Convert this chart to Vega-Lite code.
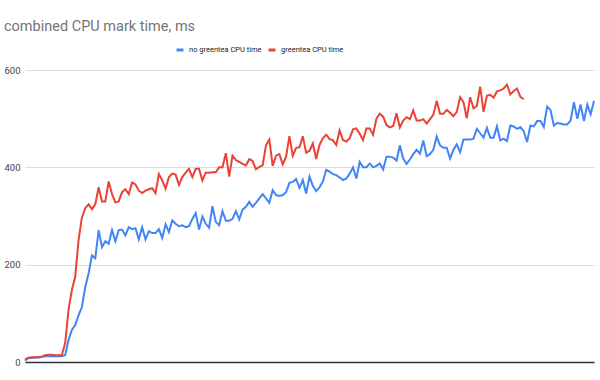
{
  "$schema": "https://vega.github.io/schema/vega-lite/v6.json",
  "width": 569,
  "height": 292,
  "autosize": {"type": "none"},
  "padding": {"left": 25, "top": 70, "right": 6, "bottom": 18},
  "background": "white",
  "title": {"text": "combined CPU mark time, ms", "anchor": "start", "frame": "group", "dx": -21, "offset": 11, "font": "Roboto", "fontSize": 14.5, "fontWeight": "normal", "color": "#757575"},
  "config": {"view": {"stroke": null}},
  "data": {"values": [
    {"i":0,"n":3,"g":5},{"i":1,"n":8,"g":9},{"i":2,"n":8,"g":10},{"i":3,"n":9,"g":10},{"i":4,"n":9,"g":10},{"i":5,"n":10,"g":11},{"i":6,"n":12,"g":14},{"i":7,"n":12,"g":15},{"i":8,"n":12,"g":15},{"i":9,"n":12,"g":14},
    {"i":10,"n":12,"g":14},{"i":11,"n":12,"g":14},{"i":12,"n":14,"g":39},{"i":13,"n":45,"g":107},{"i":14,"n":66,"g":148},{"i":15,"n":76,"g":175},{"i":16,"n":96,"g":250},{"i":17,"n":113,"g":297},{"i":18,"n":154,"g":316},{"i":19,"n":182,"g":324},
    {"i":20,"n":219,"g":314},{"i":21,"n":213,"g":324},{"i":22,"n":271,"g":359},{"i":23,"n":236,"g":330},{"i":24,"n":248,"g":330},{"i":25,"n":243,"g":371},{"i":26,"n":271,"g":345},{"i":27,"n":248,"g":328},{"i":28,"n":271,"g":330},{"i":29,"n":272,"g":349},
    {"i":30,"n":260,"g":355},{"i":31,"n":277,"g":345},{"i":32,"n":273,"g":369},{"i":33,"n":275,"g":365},{"i":34,"n":252,"g":352},{"i":35,"n":277,"g":347},{"i":36,"n":252,"g":352},{"i":37,"n":269,"g":355},{"i":38,"n":265,"g":357},{"i":39,"n":265,"g":347},
    {"i":40,"n":273,"g":386},{"i":41,"n":255,"g":373},{"i":42,"n":283,"g":356},{"i":43,"n":267,"g":380},{"i":44,"n":291,"g":387},{"i":45,"n":284,"g":385},{"i":46,"n":279,"g":364},{"i":47,"n":281,"g":380},{"i":48,"n":277,"g":389},{"i":49,"n":279,"g":397},
    {"i":50,"n":294,"g":380},{"i":51,"n":306,"g":397},{"i":52,"n":272,"g":397},{"i":53,"n":299,"g":373},{"i":54,"n":284,"g":389},{"i":55,"n":276,"g":389},{"i":56,"n":320,"g":390},{"i":57,"n":288,"g":390},{"i":58,"n":281,"g":400},{"i":59,"n":310,"g":400},
    {"i":60,"n":290,"g":429},{"i":61,"n":290,"g":381},{"i":62,"n":294,"g":424},{"i":63,"n":310,"g":415},{"i":64,"n":293,"g":411},{"i":65,"n":313,"g":407},{"i":66,"n":319,"g":404},{"i":67,"n":329,"g":417},{"i":68,"n":319,"g":413},{"i":69,"n":327,"g":396},
    {"i":70,"n":336,"g":401},{"i":71,"n":345,"g":404},{"i":72,"n":336,"g":445},{"i":73,"n":327,"g":457},{"i":74,"n":353,"g":403},{"i":75,"n":343,"g":424},{"i":76,"n":341,"g":427},{"i":77,"n":343,"g":406},{"i":78,"n":349,"g":422},{"i":79,"n":368,"g":464},
    {"i":80,"n":370,"g":424},{"i":81,"n":376,"g":440},{"i":82,"n":358,"g":441},{"i":83,"n":374,"g":464},{"i":84,"n":346,"g":430},{"i":85,"n":381,"g":434},{"i":86,"n":362,"g":449},{"i":87,"n":351,"g":417},{"i":88,"n":359,"g":446},{"i":89,"n":371,"g":460},
    {"i":90,"n":395,"g":467},{"i":91,"n":391,"g":458},{"i":92,"n":386,"g":456},{"i":93,"n":384,"g":446},{"i":94,"n":379,"g":476},{"i":95,"n":374,"g":456},{"i":96,"n":377,"g":453},{"i":97,"n":387,"g":460},{"i":98,"n":400,"g":478},{"i":99,"n":377,"g":480},
    {"i":100,"n":411,"g":469},{"i":101,"n":400,"g":456},{"i":102,"n":400,"g":480},{"i":103,"n":408,"g":480},{"i":104,"n":400,"g":467},{"i":105,"n":403,"g":500},{"i":106,"n":408,"g":510},{"i":107,"n":396,"g":504},{"i":108,"n":422,"g":487},{"i":109,"n":422,"g":482},
    {"i":110,"n":420,"g":485},{"i":111,"n":414,"g":511},{"i":112,"n":445,"g":482},{"i":113,"n":418,"g":496},{"i":114,"n":407,"g":503},{"i":115,"n":416,"g":499},{"i":116,"n":427,"g":517},{"i":117,"n":436,"g":496},{"i":118,"n":428,"g":496},{"i":119,"n":455,"g":499},
    {"i":120,"n":423,"g":490},{"i":121,"n":427,"g":499},{"i":122,"n":436,"g":508},{"i":123,"n":463,"g":537},{"i":124,"n":445,"g":510},{"i":125,"n":440,"g":510},{"i":126,"n":440,"g":518},{"i":127,"n":418,"g":512},{"i":128,"n":436,"g":505},{"i":129,"n":447,"g":514},
    {"i":130,"n":431,"g":544},{"i":131,"n":457,"g":534},{"i":132,"n":457,"g":501},{"i":133,"n":457,"g":544},{"i":134,"n":459,"g":521},{"i":135,"n":479,"g":526},{"i":136,"n":470,"g":566},{"i":137,"n":461,"g":514},{"i":138,"n":481,"g":547},{"i":139,"n":461,"g":549},
    {"i":140,"n":461,"g":543},{"i":141,"n":484,"g":556},{"i":142,"n":455,"g":558},{"i":143,"n":459,"g":562},{"i":144,"n":454,"g":570},{"i":145,"n":486,"g":550},{"i":146,"n":484,"g":557},{"i":147,"n":479,"g":562},{"i":148,"n":483,"g":545},{"i":149,"n":474,"g":540},
    {"i":150,"n":452},{"i":151,"n":486},{"i":152,"n":484},{"i":153,"n":495},{"i":154,"n":495},{"i":155,"n":483},{"i":156,"n":525},{"i":157,"n":518},{"i":158,"n":486},{"i":159,"n":491},
    {"i":160,"n":490},{"i":161,"n":488},{"i":162,"n":488},{"i":163,"n":496},{"i":164,"n":534},{"i":165,"n":500},{"i":166,"n":529},{"i":167,"n":495},{"i":168,"n":529},{"i":169,"n":509},
    {"i":170,"n":537}
  ]},
  "transform": [{"fold": ["n", "g"], "as": ["series", "ms"]}],
  "mark": {"type": "line", "strokeWidth": 2, "interpolate": "linear"},
  "encoding": {
    "x": {"field": "i", "type": "quantitative", "scale": {"domain": [0, 170], "nice": false, "zero": false},
      "axis": {"title": null, "labels": false, "ticks": false, "grid": false, "domainColor": "#333333", "domainWidth": 1.5}},
    "y": {"field": "ms", "type": "quantitative", "scale": {"domain": [0, 600], "nice": false},
      "axis": {"title": null, "values": [0, 200, 400, 600], "domain": false, "ticks": false, "grid": true, "gridColor": "#dddddd", "labelPadding": 5, "labelFont": "Roboto", "labelFontSize": 9.5, "labelColor": "#444444"}},
    "color": {"field": "series", "type": "nominal",
      "scale": {"domain": ["n", "g"], "range": ["#4285F4", "#EA4335"]},
      "legend": {"title": null, "orient": "none", "legendX": 150, "legendY": -25, "direction": "horizontal", "gridAlign": "none",
        "labelExpr": "datum.label == 'n' ? 'no greentea CPU time' : 'greentea CPU time'",
        "labelFont": "Roboto", "labelFontSize": 7.5, "labelColor": "#222222",
        "symbolType": "stroke", "symbolSize": 49, "symbolStrokeWidth": 3, "labelOffset": 4, "columnPadding": 0}}
  }
}
